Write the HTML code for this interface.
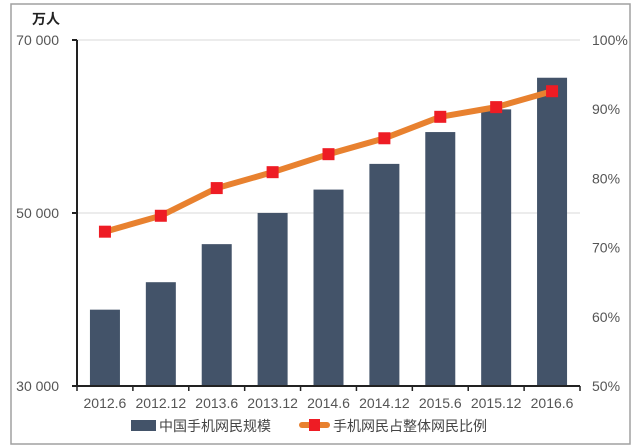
<!DOCTYPE html>
<html><head><meta charset="utf-8"><style>
body{margin:0;background:#fff;}
svg{display:block;font-family:"Liberation Sans","Noto Sans CJK SC",sans-serif;}
</style></head><body>
<svg id="chart" width="640" height="448">
<rect x="11" y="4" width="619" height="440" fill="#fff" stroke="#a0a0a0" stroke-width="1.5"/>
<g id="grid"></g><g id="bars"></g><g id="axes"></g><g id="line"></g><g id="labels"></g>
<text x="32" y="24" font-size="14" font-weight="bold" fill="#222">万人</text>
<g>
<rect x="131" y="420" width="25" height="11" fill="#435369"/>
<text x="159" y="431" font-size="14" fill="#444">中国手机网民规模</text>
<line x1="302" y1="425" x2="327" y2="425" stroke="#e8812f" stroke-width="6" stroke-linecap="round"/>
<rect x="309" y="419" width="11" height="12" fill="#ee1c24"/>
<text x="333" y="431" font-size="14" fill="#444">手机网民占整体网民比例</text>
</g>
</svg>
<script>
const categories=["2012.6","2012.12","2013.6","2013.12","2014.6","2014.12","2015.6","2015.12","2016.6"];
const users=[38825,42000,46400,50006,52706,55678,59357,61981,65637];
const ratio=[72.3,74.6,78.6,80.9,83.5,85.8,88.9,90.3,92.6];
const leftTicks=[30000,50000,70000];
const leftTickLabels=["30 000","50 000","70 000"];
const rightTicks=[50,60,70,80,90,100];
const NS="http://www.w3.org/2000/svg";
const X0=77,X1=580,Y0=386,Y1=40;
const step=(X1-X0)/categories.length;
const xc=i=>X0+step*(i+0.5);
const yL=v=>Y0-(v-30000)/40000*(Y0-Y1);
const yR=v=>Y0-(v-50)/50*(Y0-Y1);
function mk(p,t,a){const e=document.createElementNS(NS,t);for(const k in a)e.setAttribute(k,a[k]);document.getElementById(p).appendChild(e);return e;}
leftTicks.forEach((t,i)=>{
 if(t>30000){const g=mk("grid","line",{x1:X0,x2:X1,y1:yL(t),y2:yL(t),stroke:"#d9d9d9","stroke-width":1});
 
 }
 const tx=mk("labels","text",{x:59,y:yL(t)+5,"font-size":14,fill:"#555","text-anchor":"end"});
 tx.textContent=leftTickLabels[i];
 
 
 const tk=mk("axes","line",{x1:X0-5,x2:X0,y1:yL(t),y2:yL(t),stroke:"#222","stroke-width":2});
 
 
});
rightTicks.forEach(t=>{
 const tx=mk("labels","text",{x:592,y:yR(t)+5,"font-size":14,fill:"#555"});
 tx.textContent=t+"%";
 
 
});
const bw=30;
users.forEach((v,i)=>{
 const r=mk("bars","rect",{x:xc(i)-bw/2,y:yL(v),width:bw,height:Y0-yL(v),fill:"#435369"});
 
 
 const tx=mk("labels","text",{x:xc(i),y:408,"font-size":14,fill:"#555","text-anchor":"middle"});
 tx.textContent=categories[i];
 
 
});
const ax=mk("axes","line",{x1:X0,x2:X0,y1:Y1,y2:Y0+1,stroke:"#222","stroke-width":2});


const bx=mk("axes","line",{x1:X0-1,x2:X1,y1:Y0,y2:Y0,stroke:"#222","stroke-width":2});


for(let i=0;i<=categories.length;i++){
 const t=mk("axes","line",{x1:X0+step*i,x2:X0+step*i,y1:Y0,y2:Y0+5,stroke:"#222","stroke-width":1.5});
 
 
}
const pl=mk("line","polyline",{points:ratio.map((v,i)=>xc(i)+","+yR(v)).join(" "),fill:"none",stroke:"#e8812f","stroke-width":6,"stroke-linejoin":"round"});


ratio.forEach((v,i)=>{
 const m=mk("line","rect",{x:xc(i)-6,y:yR(v)-6,width:12,height:12,fill:"#ee1c24"});
 
 
});
</script>
</body></html>
